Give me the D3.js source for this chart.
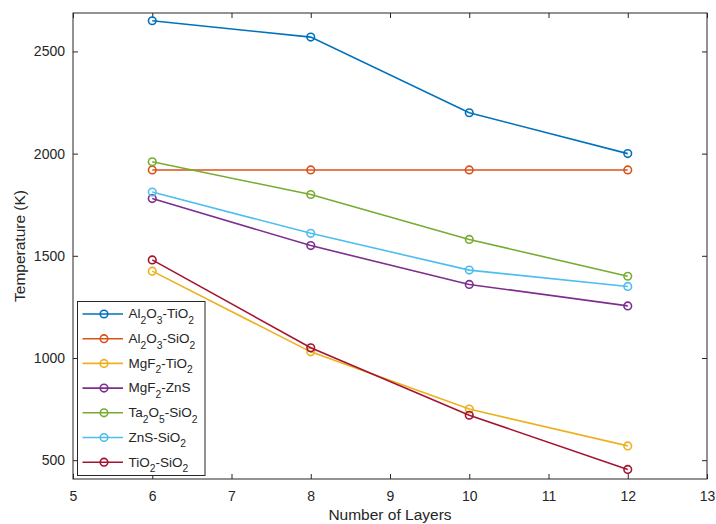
<!DOCTYPE html>
<html>
<head>
<meta charset="utf-8">
<script src="https://cdn.jsdelivr.net/npm/d3@7"></script>
<style>
  html, body { margin: 0; padding: 0; background: #fff; }
  svg { display: block; font-family: "Liberation Sans", Arial, sans-serif; }
</style>
</head>
<body>
<svg id="chart" width="716" height="524"></svg>
<script>
// Number of layers in the stack
const layers = [6, 8, 10, 12];

// Temperature (K) for each material pair
const al2o3Tio2 = [2650, 2570, 2200, 2000];
const al2o3Sio2 = [1920, 1920, 1920, 1920];
const mgf2Tio2  = [1425, 1030, 750, 570];
const mgf2Zns   = [1780, 1550, 1360, 1255];
const ta2o5Sio2 = [1960, 1800, 1580, 1400];
const znsSio2   = [1812, 1610, 1430, 1350];
const tio2Sio2  = [1480, 1050, 720, 455];

// Series names, "_n" marks a subscript digit
const seriesNames = ["Al_2O_3-TiO_2", "Al_2O_3-SiO_2", "MgF_2-TiO_2", "MgF_2-ZnS",
                     "Ta_2O_5-SiO_2", "ZnS-SiO_2", "TiO_2-SiO_2"];
const seriesValues = [al2o3Tio2, al2o3Sio2, mgf2Tio2, mgf2Zns, ta2o5Sio2, znsSio2, tio2Sio2];
const seriesColors = ["#0072BD", "#D95319", "#EDB120", "#7E2F8E", "#77AC30", "#4DBEEE", "#A2142F"];

// Axis ticks
const xTicks = [5, 6, 7, 8, 9, 10, 11, 12, 13];
const yTicks = [500, 1000, 1500, 2000, 2500];
const xLabel = "Number of Layers";
const yLabel = "Temperature (K)";

const svg = d3.select("#chart");
const plot = { left: 73, right: 707, top: 13, bottom: 479 };
const axisColor = "#262626";
const tickLen = 5;

const x = d3.scaleLinear().domain([5, 13]).range([plot.left, plot.right]);
const y = d3.scaleLinear().domain([408, 2688]).range([plot.bottom, plot.top]);

// Axes: bottom and left carry labels, top and right only tick marks (box on)
const gx = svg.append("g").attr("transform", `translate(0,${plot.bottom})`)
  .call(d3.axisBottom(x).tickValues(xTicks).tickSizeInner(-tickLen).tickSizeOuter(0).tickPadding(12));
const gy = svg.append("g").attr("transform", `translate(${plot.left},0)`)
  .call(d3.axisLeft(y).tickValues(yTicks).tickSizeInner(-tickLen).tickSizeOuter(0).tickPadding(8).tickFormat(d3.format("d")));
const gt = svg.append("g").attr("transform", `translate(0,${plot.top})`)
  .call(d3.axisTop(x).tickValues(xTicks).tickSizeInner(-tickLen).tickSizeOuter(0).tickFormat(""));
const gr = svg.append("g").attr("transform", `translate(${plot.right},0)`)
  .call(d3.axisRight(y).tickValues(yTicks).tickSizeInner(-tickLen).tickSizeOuter(0).tickFormat(""));

[gx, gy, gt, gr].forEach(g => {
  g.select(".domain").remove();
  g.selectAll(".tick line").attr("stroke", axisColor).attr("stroke-width", 1);
  g.selectAll(".tick text").attr("fill", axisColor).attr("font-size", 14)
    .attr("font-family", "Liberation Sans, Arial, sans-serif");
});
// top/right axes carry no labels
[gt, gr].forEach(g => g.selectAll(".tick text").remove());

// Box around the plot area
svg.append("rect")
  .attr("x", plot.left).attr("y", plot.top)
  .attr("width", plot.right - plot.left).attr("height", plot.bottom - plot.top)
  .attr("fill", "none").attr("stroke", axisColor).attr("stroke-width", 1);

// Axis titles
svg.append("text")
  .attr("x", (plot.left + plot.right) / 2).attr("y", 519.5)
  .attr("text-anchor", "middle").attr("font-size", 15.5).attr("fill", axisColor)
  .text(xLabel);
svg.append("text")
  .attr("transform", `translate(25,${(plot.top + plot.bottom) / 2}) rotate(-90)`)
  .attr("text-anchor", "middle").attr("font-size", 15.5).attr("fill", axisColor)
  .text(yLabel);

// Series lines and open circle markers
const line = d3.line().x((d, i) => x(layers[i])).y(d => y(d));
const series = seriesValues.map((vals, i) => ({ name: seriesNames[i], values: vals, color: seriesColors[i] }));

const sg = svg.append("g").selectAll("g").data(series).join("g");
sg.append("path")
  .attr("d", d => line(d.values))
  .attr("fill", "none").attr("stroke", d => d.color).attr("stroke-width", 1.6);
sg.selectAll("circle").data(d => d.values.map((v, i) => ({ v, i, color: d.color }))).join("circle")
  .attr("cx", d => x(layers[d.i])).attr("cy", d => y(d.v)).attr("r", 3.8)
  .attr("fill", "none").attr("stroke", d => d.color).attr("stroke-width", 1.6);

// Render a name with "_n" subscripts into tspans
function richText(sel, name, size) {
  const parts = name.split(/(_\d)/).filter(s => s.length);
  const shift = size * 0.42;
  let lowered = false;
  parts.forEach(p => {
    if (p.startsWith("_")) {
      sel.append("tspan").attr("font-size", size * 0.76).attr("dy", shift).text(p.slice(1));
      lowered = true;
    } else {
      sel.append("tspan").attr("font-size", size).attr("dy", lowered ? -shift : 0).text(p);
      lowered = false;
    }
  });
}

// Legend
const legend = { x: 77.5, y: 301.5, w: 127.5, h: 174, rowTop: 314, rowStep: 24.7 };
const lg = svg.append("g");
lg.append("rect")
  .attr("x", legend.x).attr("y", legend.y).attr("width", legend.w).attr("height", legend.h)
  .attr("fill", "#fff").attr("stroke", axisColor).attr("stroke-width", 1);
const rows = lg.selectAll("g.row").data(series).join("g").attr("class", "row")
  .attr("transform", (d, i) => `translate(0,${legend.rowTop + i * legend.rowStep})`);
rows.append("line").attr("x1", 82.5).attr("x2", 123).attr("y1", 0).attr("y2", 0)
  .attr("stroke", d => d.color).attr("stroke-width", 1.6);
rows.append("circle").attr("cx", 104).attr("cy", 0).attr("r", 3.8)
  .attr("fill", "none").attr("stroke", d => d.color).attr("stroke-width", 1.6);
rows.append("text").attr("x", 128.5).attr("y", 4.3).attr("fill", axisColor)
  .each(function (d) { richText(d3.select(this), d.name, 13.5); });
</script>
</body>
</html>
